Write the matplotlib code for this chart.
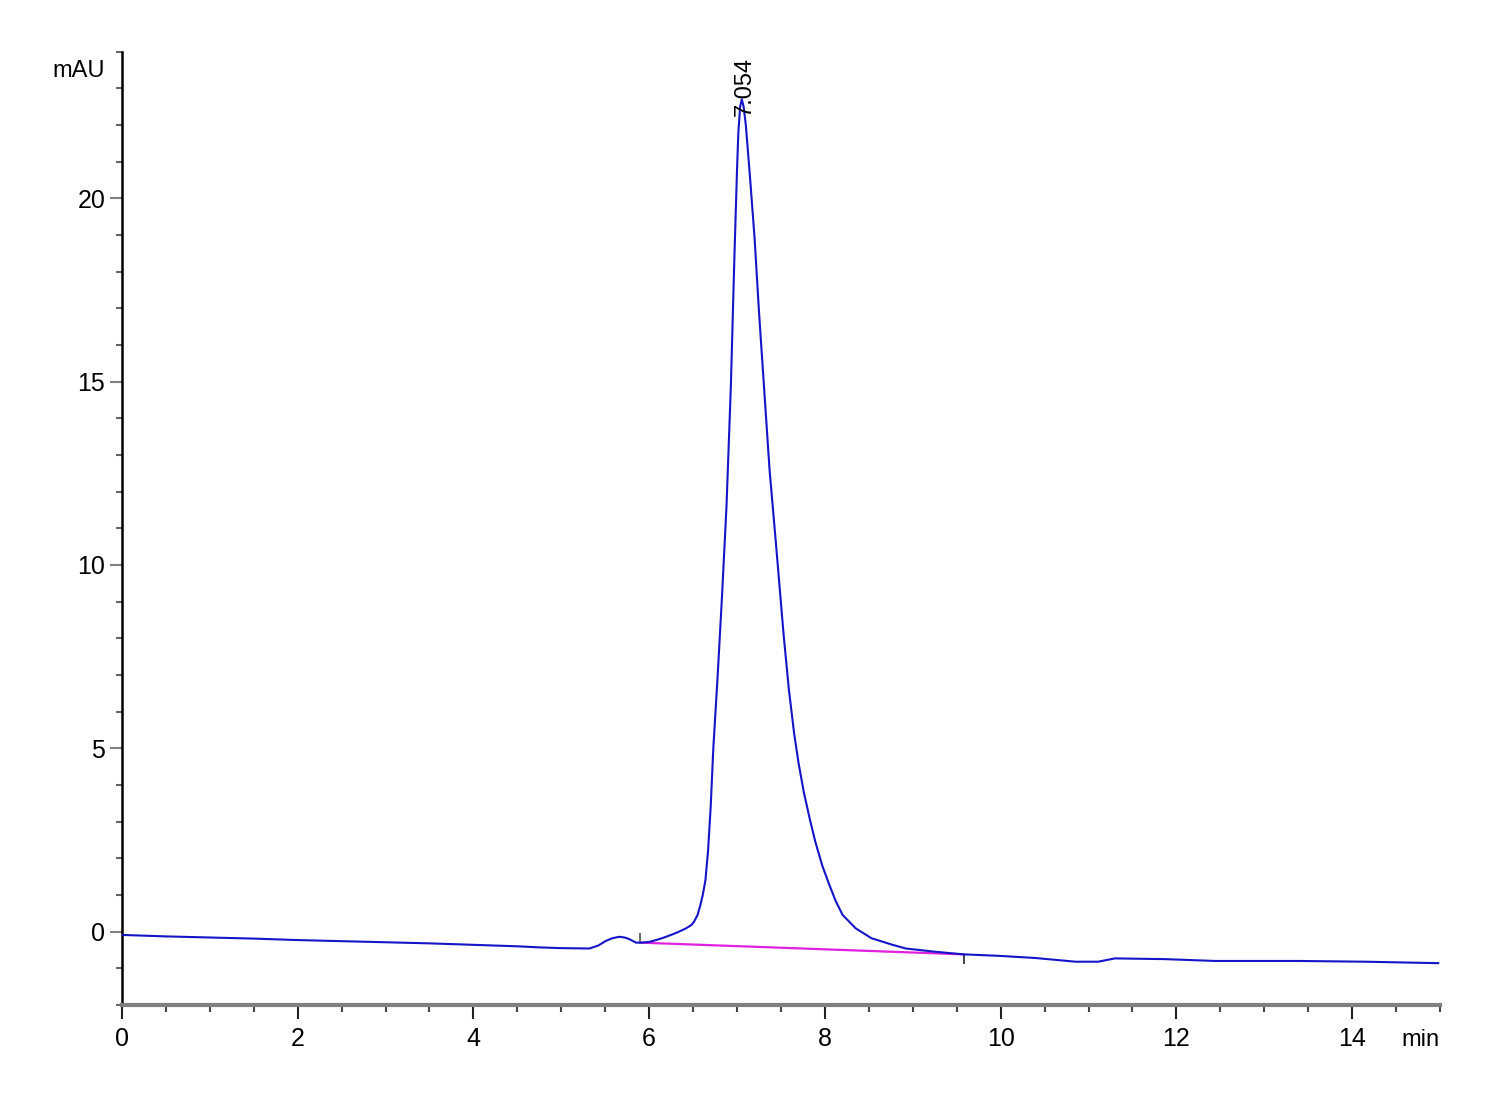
import numpy as np
import matplotlib.pyplot as plt
from matplotlib.ticker import MultipleLocator

plt.rcParams['font.family'] = ['Liberation Sans Narrow', 'Liberation Sans', 'DejaVu Sans']

# chromatogram trace (min, mAU)
t = [0, 0.5, 1, 1.5, 2, 2.5, 3, 3.5, 4, 4.5, 4.75, 5.0, 5.32, 5.42, 5.51, 5.58,
     5.66, 5.72, 5.77, 5.85, 5.92, 6.0, 6.08, 6.17, 6.26, 6.34, 6.42, 6.48, 6.51,
     6.55, 6.58, 6.61, 6.64, 6.67, 6.70, 6.73, 6.78, 6.83, 6.88, 6.93, 6.97, 7.0,
     7.015, 7.035, 7.054, 7.075, 7.10, 7.15, 7.20, 7.25, 7.31, 7.37, 7.44, 7.53,
     7.59, 7.65, 7.70, 7.76, 7.83, 7.89, 7.97, 8.05, 8.12, 8.2, 8.35, 8.53, 8.77,
     8.92, 9.26, 9.58, 9.98, 10.4, 10.85, 11.11, 11.3, 11.87, 12.44, 13.39, 14.14,
     14.98]
mau = [-0.09, -0.13, -0.16, -0.19, -0.23, -0.26, -0.29, -0.32, -0.36, -0.40, -0.43,
       -0.45, -0.46, -0.38, -0.25, -0.18, -0.14, -0.16, -0.20, -0.30, -0.30, -0.28,
       -0.23, -0.16, -0.08, 0.0, 0.09, 0.18, 0.27, 0.45, 0.7, 1.0, 1.4, 2.2, 3.4,
       5.0, 7.0, 9.2, 11.6, 14.9, 18.4, 20.8, 21.8, 22.5, 22.7, 22.5, 22.0, 20.5,
       18.9, 16.9, 14.75, 12.6, 10.66, 8.1, 6.6, 5.4, 4.6, 3.8, 3.05, 2.46, 1.8,
       1.28, 0.85, 0.46, 0.09, -0.18, -0.36, -0.46, -0.55, -0.62, -0.66, -0.72,
       -0.82, -0.82, -0.73, -0.75, -0.80, -0.80, -0.82, -0.86]

# integration baseline of the peak
base_t = [5.9, 9.58]
base_y = [-0.30, -0.62]
peak_rt = 7.054
peak_h = 22.7

fig = plt.figure(figsize=(15, 11), dpi=100)
ax = fig.add_axes([0.0813, 0.0864, 0.8787, 0.8666])

ax.plot(t, mau, color='#1414c8', lw=1.5, zorder=3)
ax.plot(base_t, base_y, color='#e020e0', lw=1.6, zorder=2)
# start / end tick marks of the peak
ax.vlines(base_t[0], base_y[0], base_y[0] + 0.25, color='#555555', lw=1.2)
ax.vlines(base_t[1], base_y[1] - 0.25, base_y[1], color='#222222', lw=1.2)

ax.text(peak_rt + 0.03, peak_h - 0.45, '%.3f' % peak_rt, rotation=90,
        ha='center', va='bottom', fontsize=17, family=['Liberation Sans', 'DejaVu Sans'])

ax.set_xlim(0, 15)
ax.set_ylim(-2, 24)
ax.xaxis.set_major_locator(MultipleLocator(2))
ax.xaxis.set_minor_locator(MultipleLocator(0.5))
ax.yaxis.set_major_locator(MultipleLocator(5))
ax.yaxis.set_minor_locator(MultipleLocator(1))
ax.set_yticks([0, 5, 10, 15, 20])

for s in ['top', 'right']:
    ax.spines[s].set_visible(False)
ax.spines['left'].set_color('black')
ax.spines['left'].set_linewidth(1.8)
ax.spines['bottom'].set_color('#808080')
ax.spines['bottom'].set_linewidth(3)

ax.tick_params(axis='x', which='major', length=10, width=1.5, color='#222222',
               labelsize=18, pad=6)
ax.tick_params(axis='x', which='minor', length=5, width=1.5, color='#444444')
ax.tick_params(axis='y', which='major', length=9, width=1.5, color='#808080',
               labelsize=18, pad=3)
ax.tick_params(axis='y', which='minor', length=4, width=1.5, color='#666666')

ax.text(-0.013, 0.98, 'mAU', transform=ax.transAxes, ha='right', va='center', fontsize=17)
ax.text(1.0, -0.025, 'min', transform=ax.transAxes, ha='right', va='top', fontsize=17)

fig.savefig('out.png', dpi=100)
